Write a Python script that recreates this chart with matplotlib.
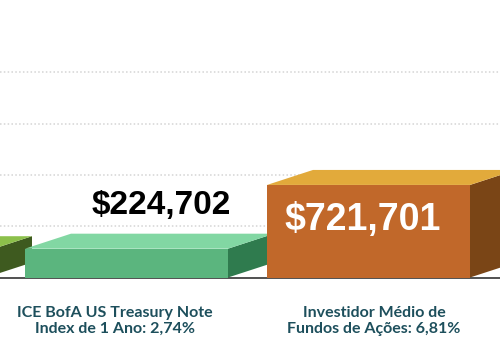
import matplotlib
matplotlib.use("Agg")
import matplotlib.pyplot as plt
from matplotlib.patches import Polygon, Rectangle

# ---- data ----
categories = ["", "ICE BofA US Treasury Note\nIndex de 1 Ano: 2,74%",
              "Investidor Médio de\nFundos de Ações: 6,81%"]
values = [205000, 224702, 721701]
value_labels = ["", "$224,702", "$721,701"]
grid_values = [400000, 800000, 1200000, 1600000]

# ---- style ----
front_colors = ["#6fa83a", "#5bb57e", "#c1682a"]
top_colors = ["#8cc04b", "#82d7a3", "#e2aa3b"]
side_colors = ["#3e5a1f", "#2f7b4e", "#7a4516"]

W, H, DPI = 500, 350, 100
px_per_unit = 51.3 / 400000.0
base_from_bottom = 72.5
ylo = -base_from_bottom / px_per_unit
yhi = ylo + H / px_per_unit
cat_spacing_px = 242.0
x0_px = 126.5  # pixel of category 1
xlo = 1 - x0_px / cat_spacing_px
xhi = xlo + W / cat_spacing_px
bar_w = 203.0 / cat_spacing_px
dx = 46.0 / cat_spacing_px
dy = 15.0 / px_per_unit

fig = plt.figure(figsize=(W / DPI, H / DPI), dpi=DPI)
ax = fig.add_axes([0, 0, 1, 1])
ax.set_xlim(xlo, xhi)
ax.set_ylim(ylo, yhi)
ax.axis("off")

for g in grid_values:
    ax.axhline(g, color="#d4d4d4", lw=1.1, linestyle=(0, (1, 1.5)), zorder=0)
ax.axhline(0, color="#333333", lw=1.2, zorder=0.5)

positions = list(range(len(values)))
for i, (x, v) in enumerate(zip(positions, values)):
    l, r = x - bar_w / 2, x + bar_w / 2
    z = 1 + i
    side = Polygon([(r, 0), (r + dx, dy), (r + dx, v + dy), (r, v)],
                   closed=True, facecolor=side_colors[i], edgecolor="none", zorder=z)
    top = Polygon([(l, v), (r, v), (r + dx, v + dy), (l + dx, v + dy)],
                  closed=True, facecolor=top_colors[i], edgecolor="none", zorder=z)
    front = Rectangle((l, 0), bar_w, v, facecolor=front_colors[i],
                      edgecolor="none", zorder=z + 0.1)
    ax.add_patch(side)
    ax.add_patch(top)
    ax.add_patch(front)

# value labels
val_offsets = [(0, 0), (34.5, 43), (-5.5, -35)]
val_colors = ["black", "black", "white"]
val_sizes = [24, 24, 27]
for i, (x, v) in enumerate(zip(positions, values)):
    if not value_labels[i]:
        continue
    ax.annotate(value_labels[i], (x, v), xytext=val_offsets[i],
                textcoords="offset pixels", ha="center", va="center",
                fontsize=val_sizes[i], fontweight="bold", color=val_colors[i],
                family="Liberation Sans", zorder=10)

# category labels (centre ~ 321 px from top)
cat_offsets = [0, -11.5, 5.5]
label_dy = -(321 - (H - base_from_bottom))
for i, (x, c) in enumerate(zip(positions, categories)):
    if not c:
        continue
    ax.annotate(c, (x, 0), xytext=(cat_offsets[i], label_dy),
                textcoords="offset pixels",
                ha="center", va="center", fontsize=11.5, fontweight="bold",
                color="#1d4f5c", family="Lato", linespacing=1.1,
                annotation_clip=False)

fig.savefig("out.png", dpi=DPI)
